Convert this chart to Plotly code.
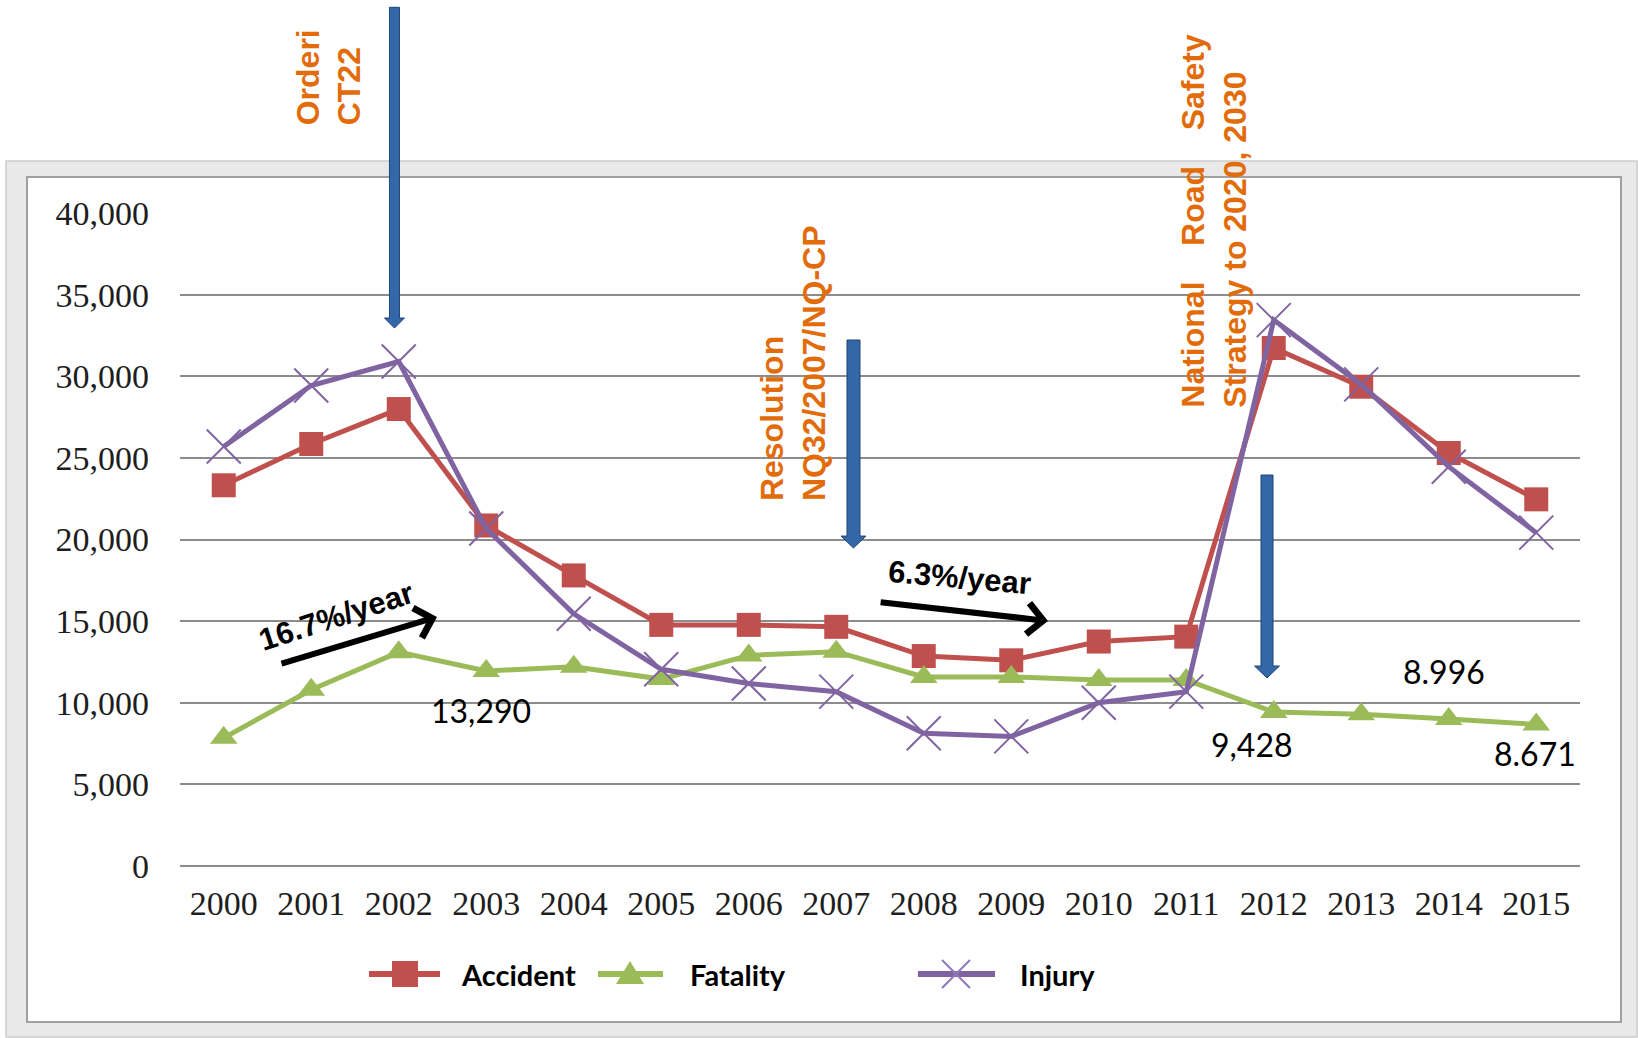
import plotly.graph_objects as go

# ---------------- data ----------------
years = [str(y) for y in range(2000, 2016)]
accident = [23320, 25850, 27990, 20860, 17800, 14770, 14770, 14650,
            12860, 12600, 13750, 14050, 31730, 29360, 25300, 22460]
fatality = [7850, 10800, 13100, 11950, 12200, 11450, 12900, 13130,
            11580, 11580, 11400, 11400, 9430, 9300, 9000, 8670]
injury = [25700, 29430, 30900, 20670, 15450, 12050, 11180, 10680,
          8130, 7940, 10000, 10680, 33440, 29500, 24460, 20420]
y_ticks = list(range(0, 40001, 5000))
series_names = ["Accident", "Fatality", "Injury"]
value_labels = ["13,290", "9,428", "8.996", "8.671"]
rate_labels = ["16.7%/year", "6.3%/year"]
policy_labels = ["Orderi<br>CT22",
                 "Resolution<br>NQ32/2007/NQ-CP",
                 "National\u00a0\u00a0\u00a0\u00a0Road\u00a0\u00a0\u00a0\u00a0Safety<br>Strategy to 2020, 2030"]

# ---------------- geometry helpers ----------------
W, H = 1638, 1038
M = dict(l=180, r=58, t=213, b=172)
PW = W - M["l"] - M["r"]
PH = H - M["t"] - M["b"]
Y_MAX = 40000


def px_x(px):
    return (px - M["l"]) / PW


def px_y(py):
    return (H - M["b"] - py) / PH


def cat_x(c):
    return (c + 0.5) / len(years)


def val_y(v):
    return v / Y_MAX


RED, GREEN, PURPLE = "#C0504D", "#9BBB59", "#8064A2"
ORANGE = "#E36C0A"

fig = go.Figure()
fig.add_trace(go.Scatter(x=years, y=accident, name=series_names[0], mode="lines+markers",
                         line=dict(color=RED, width=5),
                         marker=dict(symbol="square", size=24, color=RED)))
fig.add_trace(go.Scatter(x=years, y=fatality, name=series_names[1], mode="lines+markers",
                         line=dict(color=GREEN, width=5),
                         marker=dict(symbol="triangle-up", size=24, color=GREEN)))
fig.add_trace(go.Scatter(x=years, y=injury, name=series_names[2], mode="lines+markers",
                         line=dict(color=PURPLE, width=5),
                         marker=dict(symbol="x-thin-open", size=34,
                                     line=dict(color="#8f78b8", width=2))))

shapes = []
# chart-object frame (Excel style)
shapes.append(dict(type="rect", xref="paper", yref="paper", layer="below",
                   x0=px_x(6), x1=px_x(1637), y0=px_y(1037), y1=px_y(161),
                   fillcolor="#e9e9e9", line=dict(color="#cccccc", width=1.5)))
shapes.append(dict(type="rect", xref="paper", yref="paper", layer="below",
                   x0=px_x(27), x1=px_x(1621), y0=px_y(1022), y1=px_y(177),
                   fillcolor="white", line=dict(color="#a0a0a0", width=2)))


def blue_arrow(c, v_top, v_head, v_tip, shaft_px, head_px):
    xc = cat_x(c)
    hs = shaft_px / 2 / PW
    hh = head_px / 2 / PW
    yt, yh, yp = val_y(v_top), val_y(v_head), val_y(v_tip)
    path = (f"M{xc-hs},{yt} L{xc+hs},{yt} L{xc+hs},{yh} L{xc+hh},{yh} "
            f"L{xc},{yp} L{xc-hh},{yh} L{xc-hs},{yh} Z")
    return dict(type="path", xref="paper", yref="paper", layer="above", path=path,
                fillcolor="#3467a8", line=dict(color="#1f4577", width=1))


shapes.append(blue_arrow(1.951, 52600, 33570, 32950, 10, 20))
shapes.append(blue_arrow(7.197, 32220, 20210, 19480, 13, 25))
shapes.append(blue_arrow(11.923, 23950, 12250, 11520, 12, 25))

# manual legend
leg_y = px_y(974)
legend_items = [(series_names[0], RED, 369, 440, 405, 459, "square"),
                (series_names[1], GREEN, 598, 663, 630, 688, "triangle"),
                (series_names[2], PURPLE, 918, 995, 956, 1018, "x")]
annotations = []
for name, col, lx0, lx1, mx, tx, sym in legend_items:
    shapes.append(dict(type="line", xref="paper", yref="paper", layer="above",
                       x0=px_x(lx0), x1=px_x(lx1), y0=leg_y, y1=leg_y,
                       line=dict(color=col, width=6)))
    if sym == "square":
        shapes.append(dict(type="rect", xref="paper", yref="paper", layer="above",
                           x0=px_x(mx - 13), x1=px_x(mx + 13),
                           y0=px_y(974 + 13), y1=px_y(974 - 13),
                           fillcolor=col, line=dict(width=0)))
    elif sym == "triangle":
        shapes.append(dict(type="path", xref="paper", yref="paper", layer="above",
                           path=f"M{px_x(mx-14)},{px_y(984)} L{px_x(mx+14)},{px_y(984)} "
                                f"L{px_x(mx)},{px_y(961)} Z",
                           fillcolor=col, line=dict(width=0)))
    else:
        for d in (1, -1):
            shapes.append(dict(type="line", xref="paper", yref="paper", layer="above",
                               x0=px_x(mx - 14), x1=px_x(mx + 14),
                               y0=px_y(974 - 14 * d), y1=px_y(974 + 14 * d),
                               line=dict(color="#8f78b8", width=2)))
    annotations.append(dict(xref="paper", yref="paper", x=px_x(tx), y=leg_y,
                            xanchor="left", yanchor="middle", showarrow=False,
                            text=name,
                            font=dict(family="Lato", size=29, color="black", weight="bold")))

# policy texts (rotated, orange) - paper refs so they may sit above the plot area
for txt, c, v in zip(policy_labels, [1.203, 6.506, 11.317], [45250, 22230, 27950]):
    annotations.append(dict(xref="paper", yref="paper", x=cat_x(c), y=val_y(v), text=txt,
                            textangle=-90, xanchor="center", yanchor="bottom",
                            align="left", showarrow=False,
                            font=dict(family="Liberation Sans", size=32, color=ORANGE,
                                      weight="bold")))

# black trend arrows
annotations.append(dict(xref="x", yref="y", axref="x", ayref="y",
                        x=2.437, y=15253, ax=0.643, ay=12374, text="",
                        showarrow=True, arrowhead=4, arrowwidth=6, arrowsize=1,
                        arrowcolor="black", standoff=0, startstandoff=0))
annotations.append(dict(xref="x", yref="y", axref="x", ayref="y",
                        x=9.42, y=15008, ax=7.49, ay=16172, text="",
                        showarrow=True, arrowhead=4, arrowwidth=6, arrowsize=1,
                        arrowcolor="black", standoff=0, startstandoff=0))
for txt, c, v, ang in zip(rate_labels, [1.28, 8.41], [15314, 17642], [-18, 5]):
    annotations.append(dict(xref="x", yref="y", x=c, y=v, text=txt, textangle=ang,
                            showarrow=False,
                            font=dict(family="Liberation Sans", size=31, color="black",
                                      weight="bold")))

# value labels
for txt, c, v in zip(value_labels, [2.94, 11.75, 13.94, 14.99], [9556, 7473, 11902, 6910]):
    annotations.append(dict(xref="x", yref="y", x=c, y=v, text=txt, showarrow=False,
                            font=dict(family="Lato", size=32, color="black")))

tick_font = dict(family="Liberation Serif", size=34, color="#1e1e1e")
fig.update_layout(
    width=W, height=H,
    margin=dict(**M, pad=0),
    paper_bgcolor="white",
    plot_bgcolor="rgba(0,0,0,0)",
    showlegend=False,
    shapes=shapes,
    annotations=annotations,
    xaxis=dict(type="category", categoryorder="array", categoryarray=years,
               range=[-0.5, len(years) - 0.5], showgrid=False, zeroline=False,
               showline=False, ticks="", tickfont=tick_font, ticklabelstandoff=14,
               fixedrange=True),
    yaxis=dict(range=[0, Y_MAX], tickvals=y_ticks, tickformat=",", showgrid=True,
               gridcolor="#8c8c8c", gridwidth=2, zeroline=True, zerolinecolor="#8c8c8c",
               zerolinewidth=2, showline=False, ticks="", tickfont=tick_font,
               ticklabelstandoff=30, fixedrange=True),
)

fig.write_html("out.html", config={"displayModeBar": False},
               post_script="document.body.style.margin='0';document.body.style.overflow='hidden';")
